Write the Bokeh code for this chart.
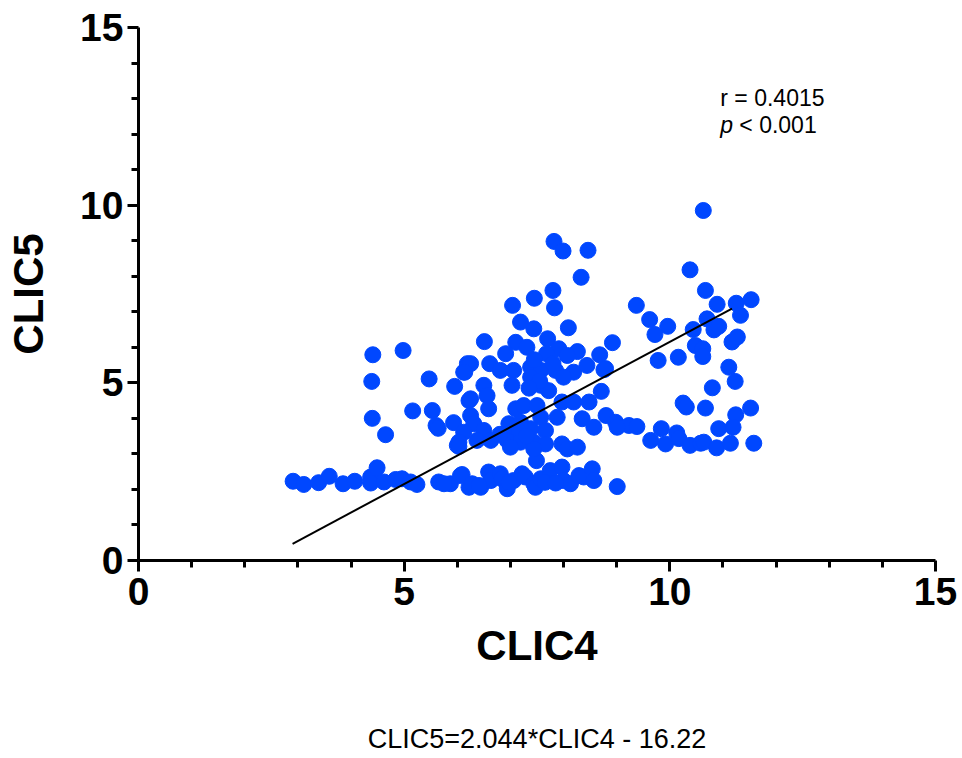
from bokeh.plotting import figure
from bokeh.models import Range1d, Label, FixedTicker
from bokeh.layouts import column
from bokeh.core.properties import value
from bokeh.embed import file_html
from bokeh.resources import INLINE

# ---- data ----
clic4 = [
    # low band, left
    2.91, 3.11, 3.39, 3.59, 3.85, 4.07, 4.37, 4.49, 4.37, 4.62, 4.84, 4.96, 5.12, 5.24, 5.65, 5.87, 6.09, 6.22,
    # left cluster
    4.41, 4.98, 4.39, 5.47, 5.95, 5.16, 5.53, 5.60, 5.64, 4.40, 4.65, 5.93, 6.00, 6.12, 6.19, 6.22,
    # low band, centre
    5.75, 6.06, 6.28, 6.44, 6.59, 6.63, 6.81, 6.84, 6.94, 7.06, 7.22, 7.28, 7.44, 7.47, 7.57, 7.75, 7.97, 8.00,
    8.13, 8.29, 8.38, 8.54, 8.57, 9.01, 7.49, 6.41, 6.97, 7.65, 7.85,
    # centre cluster
    7.19, 7.44, 8.09, 6.51, 7.10, 7.31, 7.70, 7.91, 8.26, 8.92, 6.91, 7.68, 8.07, 8.68,
    6.25, 6.61, 6.14, 6.81, 7.06, 7.38, 7.57, 7.85, 8.19, 8.44, 8.76, 7.38, 8.00,
    6.50, 7.03, 7.57, 7.72, 8.71, 6.25, 6.56, 6.59, 7.10, 7.25, 7.50, 7.97, 8.19, 8.48,
    6.25, 6.31, 6.97, 7.19, 7.57, 7.88, 8.35, 8.80, 8.98, 9.23, 9.38, 8.57, 9.01,
    6.12, 6.50, 6.94, 7.16, 7.38, 7.66,
    6.03, 6.03, 6.37, 6.63, 6.94, 7.19, 7.44, 7.66, 7.00, 7.44, 7.97, 8.07, 8.26,
    7.45, 7.55, 7.35, 7.80, 6.80, 7.30,
    # upper centre
    7.82, 7.99, 8.46, 8.33, 7.80, 7.45, 7.04, 7.83,
    # right group
    10.38, 10.67, 9.37, 10.89, 11.25, 11.53, 9.62, 9.96, 9.72, 10.70, 10.44, 10.83, 10.92, 11.33,
    10.48, 10.62, 10.62, 11.17, 11.27, 9.78, 10.16, 8.79, 11.11, 11.23, 10.80,
    10.25, 10.31, 10.67, 11.52, 11.24, 10.92, 11.19, 9.84, 10.13,
    9.64, 9.92, 10.17, 10.38, 10.58, 10.64, 10.88, 11.14, 11.58, 10.63,
]
clic5 = [
    2.23, 2.14, 2.19, 2.37, 2.16, 2.23, 2.35, 2.61, 2.18, 2.21, 2.28, 2.30, 2.21, 2.14, 2.21, 2.16, 2.42, 2.06,
    5.79, 5.91, 5.04, 5.11, 4.90, 4.21, 4.22, 3.80, 3.72, 4.00, 3.54, 3.88, 3.24, 5.30, 5.54, 4.50,
    2.16, 2.39, 2.16, 2.06, 2.49, 2.25, 2.44, 2.30, 2.02, 2.25, 2.44, 2.35, 2.16, 2.06, 2.30, 2.53, 2.63, 2.25,
    2.16, 2.39, 2.35, 2.58, 2.25, 2.08, 2.81, 2.11, 2.20, 2.20, 2.18,
    6.71, 6.52, 6.55, 6.16, 6.14, 6.00, 6.24, 5.96, 5.88, 6.13, 5.82, 5.82, 5.77, 5.79,
    5.54, 5.54, 5.30, 5.35, 5.35, 5.44, 5.35, 5.35, 5.30, 5.49, 5.37, 5.16, 5.16,
    4.93, 4.93, 4.93, 4.78, 4.76, 4.55, 4.64, 4.27, 4.27, 4.36, 4.36, 4.46, 4.46, 4.46,
    4.08, 3.85, 3.85, 3.89, 4.03, 4.03, 3.99, 4.08, 3.89, 3.80, 3.77, 3.75, 3.75,
    3.61, 3.66, 3.57, 3.66, 3.71, 3.66,
    3.33, 3.21, 3.38, 3.38, 3.38, 3.33, 3.33, 3.28, 3.19, 3.14, 3.28, 3.14, 3.19,
    5.65, 5.05, 4.85, 5.55, 3.55, 3.50,
    8.98, 8.71, 8.73, 7.97, 7.60, 7.38, 7.18, 7.11,
    8.18, 7.60, 7.18, 7.21, 7.24, 7.34, 6.78, 6.59, 6.36, 6.80, 6.50, 6.49, 6.59, 6.90,
    6.05, 5.96, 5.74, 6.15, 6.29, 5.63, 5.72, 5.40, 5.44, 5.04, 4.86,
    4.43, 4.32, 4.29, 4.29, 4.10, 3.71, 3.75, 3.71, 3.59,
    3.38, 3.28, 3.43, 3.24, 3.30, 3.33, 3.17, 3.30, 3.30, 9.85,
]
assert len(clic4) == len(clic5)

fit_x = [2.90, 11.17]
fit_y = [0.47, 7.09]

major_ticks = [0, 5, 10, 15]
minor_ticks = [1, 2, 3, 4, 6, 7, 8, 9, 11, 12, 13, 14]

stat_r = "r = 0.4015"
stat_p = "< 0.001"
equation = "CLIC5=2.044*CLIC4 - 16.22"

FONT = "Liberation Sans"

p = figure(width=962, height=700, x_range=Range1d(0, 15), y_range=Range1d(0, 15),
           output_backend="svg", toolbar_location=None,
           min_border_left=138, min_border_right=27, min_border_top=27, min_border_bottom=140,
           x_axis_label="CLIC4", y_axis_label="CLIC5")
p.background_fill_color = "white"
p.border_fill_color = "white"
p.outline_line_color = None
p.xgrid.visible = False
p.ygrid.visible = False

for ax in (p.xaxis[0], p.yaxis[0]):
    ax.ticker = FixedTicker(ticks=major_ticks, minor_ticks=minor_ticks)
    ax.axis_line_width = 3
    ax.axis_line_color = "black"
    ax.major_tick_line_width = 3
    ax.minor_tick_line_width = 3
    ax.major_tick_line_color = "black"
    ax.minor_tick_line_color = "black"
    ax.major_tick_out = 11
    ax.major_tick_in = 0
    ax.minor_tick_out = 7
    ax.minor_tick_in = 0
    ax.major_label_text_font = FONT
    ax.major_label_text_font_style = "bold"
    ax.major_label_text_font_size = "39px"
    ax.major_label_text_color = "black"
    ax.axis_label_text_font = FONT
    ax.axis_label_text_font_style = "bold"
    ax.axis_label_text_font_size = "42px"
    ax.axis_label_text_color = "black"

p.xaxis[0].major_label_standoff = 6
p.yaxis[0].major_label_standoff = 4
p.xaxis[0].axis_label_standoff = 14
p.yaxis[0].axis_label_standoff = 25

p.scatter(clic4, clic5, size=16, marker="circle", fill_color="#0047FF", line_color="#0047FF")
p.line(fit_x, fit_y, line_color="black", line_width=2)

p.add_layout(Label(x=10.95, y=13.01, text=stat_r, text_font=FONT, text_font_size="23px",
                   text_baseline="alphabetic", text_align="left", text_color="black"))
p.add_layout(Label(x=10.95, y=12.25, text="p", text_font=FONT, text_font_size="23px",
                   text_font_style="italic", text_baseline="alphabetic", text_color="black"))
p.add_layout(Label(x=10.95, y=12.25, x_offset=19, text=stat_p, text_font=FONT, text_font_size="23px",
                   text_baseline="alphabetic", text_color="black"))

# strip below the chart carrying the regression equation
q = figure(width=962, height=58, x_range=Range1d(0, 15), y_range=Range1d(0, 1),
           output_backend="svg", toolbar_location=None,
           x_axis_location=None, y_axis_location=None,
           min_border_left=138, min_border_right=27, min_border_top=0, min_border_bottom=0)
q.outline_line_color = None
q.xgrid.visible = False
q.ygrid.visible = False
q.background_fill_color = "white"
q.border_fill_color = "white"
q.text(x=[7.5], y=[0.33], text=[equation], text_font=value(FONT), text_font_size="27px",
       text_align="center", text_baseline="middle", text_color="black")

layout = column(p, q, spacing=0)
open("out.html", "w").write(file_html(layout, INLINE))
